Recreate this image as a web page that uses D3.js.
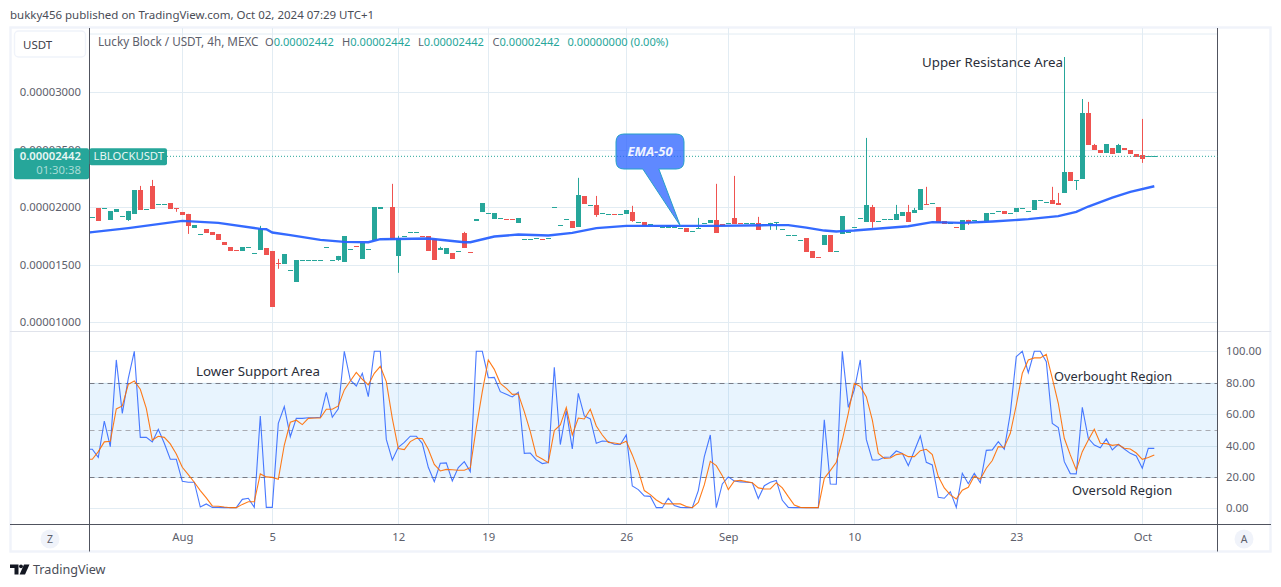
<!DOCTYPE html>
<html><head><meta charset="utf-8">
<script src="https://cdn.jsdelivr.net/npm/d3@7"></script>
<style>
html,body{margin:0;padding:0;background:#fff;overflow:hidden}
svg{display:block}
text{font-family:"Noto Sans",sans-serif}
</style></head><body>
<svg id="c" width="1281" height="587"></svg>
<script>
// Prices are in units of 1e-8 USDT
const openPrice=[1913,1994,1994,1890,1959,1922,1890,1942,2150,1983,2185,2026,2026,2038,1993,1960,1942,1820,1766,1812,1786,1768,1699,1656,1629,1621,1653,1601,1630,1647,1621,1516,1508,1453,1352,1540,1540,1540,1540,1653,1540,1540,1525,1635,1666,1551,1635,1716,1986,1728,2003,1578,1748,1783,1783,1750,1751,
1725,1630,1595,1604,1618,1777,1611,1881,1959,1948,1899,1904,1898,1898,1864,1722,1722,1731,1724,1731,2000,1844,1896,1881,1829,2098,2017,2020,1948,1939,1941,1939,1942,1959,1870,1873,1852,1840,1829,1821,1829,1818,1821,1792,1818,1861,1864,1890,1855,1861,1907,1863,1861,1861,1864,1852,1847,1870,1809,1757,1757,1713,1734,1621,1568,1673,1760,1618,1769,1786,1826,
1904,1873,2003,1878,1896,1896,1890,1925,1959,1951,1977,2028,2035,2003,1881,1861,1828,1803,1890,1887,1870,1881,1948,1965,1968,1948,1959,1994,1965,1977,2061,2043,2064,2038,2124,2307,2232,2246,2819,2541,2498,2472,2515,2472,2515,2498,2463,2454,2442,2442];
const closePrice=[1913,1881,1994,1968,1986,1922,1968,2150,1977,1983,1986,2026,2026,1986,1991,1933,1838,1847,1766,1777,1760,1716,1673,1621,1627,1656,1653,1601,1812,1586,1135,1514,1595,1453,1543,1540,1540,1540,1540,1653,1540,1577,1751,1635,1664,1690,1635,2003,2003,1728,1716,1734,1748,1783,1783,1748,1621,
1543,1647,1647,1551,1618,1647,1609,1899,2038,1948,1951,1904,1896,1896,1907,1722,1722,1731,1722,1731,2000,1844,1896,1821,2107,2029,2017,1933,1948,1939,1939,1939,1977,1881,1870,1838,1852,1838,1829,1847,1829,1818,1786,1792,1818,1861,1890,1777,1838,1861,1855,1861,1861,1861,1803,1852,1864,1870,1809,1757,1757,1713,1612,1560,1566,1760,1612,1618,1925,1786,1826,
1904,2020,1873,1878,1896,1896,1942,1959,1873,1977,2159,2026,2035,1864,1855,1861,1826,1890,1864,1887,1870,1951,1948,1965,1942,1948,1994,1994,1965,2064,2061,2043,2029,2020,2307,2229,2232,2819,2541,2498,2472,2550,2463,2541,2498,2463,2437,2420,2442,2442];
const upperWicks=[[8,2185],[10,2237],[28,1838],[31,1551],[50,2203],[51,1751],[58,1656],[62,1786],[81,2255],[84,2098],[90,2012],[101,1907],[104,2203],[107,2272],[111,1916],[130,2020],[129,2602],[134,2020],[136,2020],[137,1994],[139,2177],[160,2177],[161,2124],[162,3305],[165,2940],[166,2915],[167,2550],[171,2550],[175,2767]];
const lowerWicks=[[6,1881],[14,1960],[16,1768],[31,1465],[41,1534],[51,1430],[84,1916],[90,1873],[113,1803],[114,1803],[130,1821],[146,1847],[164,2150],[175,2385]];
const emaIndex=[-1,0,6,15,21,28,29,30,33,38,42,46,48,56,62,63,67,71,76,80,84,89,104,113,116,119,122,124,125,127,136,140,145,150,156,161,164,166,170,173,177];
const emaValue=[1778,1783,1818,1881,1864,1812,1809,1780,1757,1716,1699,1696,1722,1728,1696,1696,1745,1763,1754,1777,1818,1838,1838,1844,1844,1823,1797,1789,1792,1797,1835,1870,1864,1876,1896,1922,1959,2006,2084,2133,2182];
// Stochastic series begin one bar before the first visible candle
const stochK=[37.6,37.6,32.5,55.6,39.3,94.5,60.5,82.8,100,45.2,45.2,42.3,50.3,41.4,31.2,31.2,17.2,16.6,16.6,0.8,2.8,0.6,0.6,0.4,0.4,0.4,5.7,6.4,0.6,58.8,0.6,0.6,54.1,64.8,45.6,57.3,57.3,57.7,57.7,58,73.9,58,63.3,100,81.7,77.9,86,71.1,100,100,43.9,30.8,38.9,42,45.9,45.9,41.4,26.1,17,28.7,28.9,17.4,25.9,29.7,23.4,
100,100,83.2,83.4,74.3,72.6,70.9,73.9,35,35.2,30.8,28.5,29.1,89.8,40.6,62.2,37.8,73.2,58.8,56.9,41.4,42.9,42.5,40.8,40.6,46.7,14.2,11.9,7.9,7.6,0.4,0.4,6.4,1.7,0.6,0.4,0.4,11.3,32.9,46.7,0.4,15.5,20,17.4,16.8,16.6,16.3,6.2,14.4,16.6,17.8,5.1,0.6,0.4,0.4,0.4,0.4,0.4,56.3,15.5,15.3,100,64.3,75.4,94.5,
43.9,30.8,30.8,32.5,32.7,36.5,35,27.2,36.5,46.1,29.3,27.6,7,6.4,10.6,0.6,22.3,15.7,22.3,16.3,36.9,37.2,42.5,37.6,60.5,96.6,100,86.4,100,100,93.4,54.1,51.4,29.7,22.1,21.9,64.3,44.6,40.3,38.6,44.2,37.2,40.8,37.8,35,33.3,25.5,38.2,38.2];
const stochD=[31.2,31.2,36.1,42.3,42.7,63.3,65.2,79,81.1,75.8,63.7,43.5,45.9,45.2,41,34.6,26.1,21.4,16.6,11.3,6.6,1.5,1.3,0.8,0.4,0.4,2.5,4.2,4.2,21.9,20,19.7,18.5,40.3,54.8,56.1,53.3,57.3,57.5,57.5,63.1,63.1,65.2,75.4,81.1,86.6,82.2,78.6,86,90.4,80.7,57.3,38,37.4,42.5,44.6,44.4,37.6,28,23.8,24.8,24.6,24.2,24.2,25.9,
51.4,74.3,94.5,88.5,79.6,76.4,72.6,72.8,61.6,48.8,33.5,31.4,29.1,49.5,53.1,64.2,46.7,57.5,56.9,63.1,52.4,46.7,42,41.6,41,42.7,34,24,11.3,8.7,5.3,3,2.8,2.8,2.8,1.1,0.4,3.8,14.9,29.9,27.2,20.8,11.9,17.4,17.8,17,16.3,13,12.3,12.3,16.3,13,7.4,2.1,0.6,0.4,0.4,0.4,19.1,24,29.3,43.5,60.5,79.6,77.5,
71.1,56.3,35,31.8,32,34.2,34.8,32.9,32.9,36.7,37.6,34.2,20.2,13,8.5,5.9,11.5,13.4,20.6,18.5,25.5,30.4,39.3,38.9,47.8,65.8,86,94.5,95.8,95.8,98.1,82.8,66.9,44.6,34,24.4,36.1,43.5,50.3,41.4,41.2,40.1,40.6,38.2,37.8,35.2,31.2,32.3,34];
const priceTicks=[1000,1500,2000,2500,3000];
const stochTicks=[0,20,40,60,80,100];
const dateIndex=[15,30,51,66,89,106,127,154,175];
const dateLabel=["Aug","5","12","19","26","Sep","10","23","Oct"];
const lastPrice=2442;

const GRID="#e2ecf3",AXIS="#50535e",TXT="#5d606b",UP="#26a69a",DOWN="#ef5350";
const L=89.5,R=1217.5,T=28,SEP=331,B=524,FB=551.5;
const svg=d3.select("#c");
const x=d3.scaleLinear().domain([0,177]).range([92.3,1154.3]);
const yP=d3.scaleLinear().domain([1000,3000]).range([322.3,92.1]);
const yS=d3.scaleLinear().domain([0,100]).range([508.3,351.3]);
const fmt=v=>(v*1e-8).toFixed(8);

svg.append("text").attr("x",10).attr("y",19).attr("font-size",11.5).attr("fill","#4a4d57")
  .text("bukky456 published on TradingView.com, Oct 02, 2024 07:29 UTC+1");
svg.append("rect").attr("x",10.5).attr("y",27.5).attr("width",1260).attr("height",524).attr("fill","#fff").attr("stroke","#f0f3fa").attr("stroke-width",2.4);

const defs=svg.append("defs");
defs.append("clipPath").attr("id","pp").append("rect").attr("x",L).attr("y",T).attr("width",R-L).attr("height",SEP-T);
defs.append("clipPath").attr("id","ps").append("rect").attr("x",L).attr("y",SEP).attr("width",R-L).attr("height",B-SEP);

// grid
const grid=svg.append("g").attr("stroke",GRID).attr("stroke-width",1);
grid.selectAll(".v").data(dateIndex).join("line").attr("x1",d=>Math.round(x(d))+.5).attr("x2",d=>Math.round(x(d))+.5).attr("y1",T).attr("y2",B);
grid.selectAll(".p").data(priceTicks).join("line").attr("class","p").attr("x1",L).attr("x2",R).attr("y1",d=>Math.round(yP(d))+.5).attr("y2",d=>Math.round(yP(d))+.5);
grid.append("line").attr("x1",L).attr("x2",R).attr("y1",34).attr("y2",34);

// stochastic band
svg.append("rect").attr("x",L).attr("width",R-L).attr("y",yS(80)).attr("height",yS(20)-yS(80)).attr("fill","#2196f3").attr("fill-opacity",.1);
const sg=svg.append("g");
sg.selectAll("line").data(stochTicks).join("line").attr("x1",L).attr("x2",R).attr("y1",d=>Math.round(yS(d))+.5).attr("y2",d=>Math.round(yS(d))+.5)
  .attr("stroke",d=>(d===0||d===100)?GRID:"#cfe3f0");
[[80,"#787b86"],[50,"#a9abb2"],[20,"#787b86"]].forEach(([v,c])=>{
  svg.append("line").attr("x1",L).attr("x2",R).attr("y1",Math.round(yS(v))+.5).attr("y2",Math.round(yS(v))+.5).attr("stroke",c).attr("stroke-dasharray","5 4");
});

// axes
const gl=svg.append("g").attr("transform",`translate(${L},0)`).call(d3.axisLeft(yP).tickValues(priceTicks).tickFormat(fmt).tickSize(0).tickPadding(8.5));
const gr=svg.append("g").attr("transform",`translate(${R},0)`).call(d3.axisRight(yS).tickValues(stochTicks).tickFormat(d=>d.toFixed(2)).tickSize(0).tickPadding(8.5));
const gb=svg.append("g").attr("transform",`translate(0,${B})`).call(d3.axisBottom(x).tickValues(dateIndex).tickFormat((d,i)=>dateLabel[i]).tickSize(0).tickPadding(8.5));
[gl,gr,gb].forEach(g=>{g.select(".domain").remove();g.selectAll("text").attr("font-size",11.3).attr("fill",TXT).attr("font-family",'"Noto Sans",sans-serif');});

// candles
const bars=openPrice.map((o,i)=>({i,o,c:closePrice[i],h:Math.max(o,closePrice[i]),l:Math.min(o,closePrice[i])}));
upperWicks.forEach(([i,v])=>bars[i].h=v);
lowerWicks.forEach(([i,v])=>bars[i].l=v);
const pp=svg.append("g").attr("clip-path","url(#pp)");
const col=d=>d.c>=d.o?UP:DOWN;
pp.selectAll(".w").data(bars.filter(d=>d.h>Math.max(d.o,d.c)||d.l<Math.min(d.o,d.c))).join("rect")
  .attr("x",d=>Math.round(x(d.i)-.5)).attr("width",1).attr("y",d=>yP(d.h)).attr("height",d=>yP(d.l)-yP(d.h)).attr("fill",col);
pp.selectAll(".b").data(bars).join("rect")
  .attr("x",d=>Math.round(x(d.i)-2.5)).attr("width",5)
  .attr("y",d=>Math.round(yP(Math.max(d.o,d.c))))
  .attr("height",d=>Math.max(1,Math.round(yP(Math.min(d.o,d.c)))-Math.round(yP(Math.max(d.o,d.c)))))
  .attr("fill",col);

// EMA
pp.append("path").datum(emaIndex.map((d,i)=>[d,emaValue[i]])).attr("fill","none").attr("stroke","#2962ff").attr("stroke-opacity",.95).attr("stroke-width",2.4)
  .attr("d",d3.line().x(d=>x(d[0])).y(d=>yP(d[1])));

// stochastic lines
const ps=svg.append("g").attr("clip-path","url(#ps)");
const sl=d3.line().x((d,i)=>x(i-1)).y(d=>yS(d));
ps.append("path").datum(stochK).attr("fill","none").attr("stroke","#2962ff").attr("stroke-opacity",.85).attr("stroke-width",1.1).attr("d",sl);
ps.append("path").datum(stochD).attr("fill","none").attr("stroke","#ff6d00").attr("stroke-opacity",.9).attr("stroke-width",1.1).attr("d",sl);

// frame lines
const fr=svg.append("g").attr("stroke",AXIS).attr("stroke-width",1);
fr.append("line").attr("x1",10).attr("x2",1271).attr("y1",SEP+.5).attr("y2",SEP+.5).attr("stroke","#e0e3eb");
fr.append("line").attr("x1",L).attr("x2",L).attr("y1",T).attr("y2",FB);
fr.append("line").attr("x1",R).attr("x2",R).attr("y1",T).attr("y2",FB);
fr.append("line").attr("x1",10).attr("x2",1271).attr("y1",B+.5).attr("y2",B+.5);

// last price line + tags
const yLast=yP(lastPrice);
svg.append("line").attr("x1",167).attr("x2",R).attr("y1",yLast).attr("y2",yLast).attr("stroke",UP).attr("stroke-dasharray","1 2");
svg.append("rect").attr("x",14).attr("y",yLast-8).attr("width",75).attr("height",31).attr("rx",2).attr("fill",UP);
svg.append("rect").attr("x",89.5).attr("y",yLast-8).attr("width",77.5).attr("height",17).attr("rx",2).attr("fill",UP);
svg.append("text").attr("x",81).attr("y",yLast+4).attr("text-anchor","end").attr("font-size",11.3).attr("font-weight",600).attr("fill","#e8f6f4").text(fmt(lastPrice));
svg.append("text").attr("x",81).attr("y",yLast+18).attr("text-anchor","end").attr("font-size",11.3).attr("fill","#a8dcd6").text("01:30:38");
svg.append("text").attr("x",93.5).attr("y",yLast+4).attr("font-size",11.3).attr("fill","#e8f6f4").text("LBLOCKUSDT");

// USDT button
svg.append("rect").attr("x",14.5).attr("y",31).attr("width",71).attr("height",26).attr("rx",4).attr("fill","#fff").attr("stroke","#f0f3fa").attr("stroke-width",1.4);
svg.append("text").attr("x",23).attr("y",48.5).attr("font-size",11.5).attr("fill","#3f424c").text("USDT");

// legend
const lg=svg.append("text").attr("x",98).attr("y",46).attr("font-size",11.7).attr("fill",TXT);
lg.append("tspan").text("Lucky Block / USDT, 4h, MEXC");
[["O",265],["H",342],["L",418],["C",492.5]].forEach(([k,px])=>{
  lg.append("tspan").attr("x",px).attr("font-size",11.1).text(k);
  lg.append("tspan").attr("fill",UP).attr("font-size",11.1).text(fmt(lastPrice));
});
lg.append("tspan").attr("x",567.5).attr("font-size",11.1).attr("fill",UP).text("0.00000000 (0.00%)");

// EMA-50 callout
const tipX=x(98),tipY=yP(1838);
svg.append("path").attr("d",`M${tipX},${tipY}L${tipX-37.5},169 H624 Q616,169 616,161 V142 Q616,134 624,134 H676 Q684,134 684,142 V161 Q684,169 676,169 H${tipX-21.5} Z`)
  .attr("fill","#2962ff").attr("fill-opacity",.75).attr("stroke","#26a0c8").attr("stroke-width",1);
svg.append("text").attr("x",650).attr("y",156).attr("text-anchor","middle").attr("font-size",13).attr("font-weight",700).attr("font-style","italic").attr("fill","#f0f4ff").text("EMA-50");

// annotations
[["Upper Resistance Area",922,67,13.3],["Lower Support Area",196,376,13.3],["Overbought Region",1054,381,12.8],["Oversold Region",1072,495,12.9]].forEach(([t,px,py,fs])=>{
  svg.append("text").attr("x",px).attr("y",py).attr("font-size",fs).attr("fill","#2a2e39").text(t);
});

// Z / A buttons
[[50,"Z"],[1244,"A"]].forEach(([cx,t])=>{
  svg.append("circle").attr("cx",cx).attr("cy",539).attr("r",9.5).attr("fill","#f0f3fa");
  svg.append("text").attr("x",cx).attr("y",543).attr("text-anchor","middle").attr("font-size",10.5).attr("fill",TXT).text(t);
});

// logo
const logo=svg.append("g").attr("transform","translate(10,564.5)").attr("fill","#131722");
logo.append("path").attr("d","M0 0H8.5V10H4.5V3.4H0Z");
logo.append("circle").attr("cx",11).attr("cy",1.8).attr("r",1.9);
logo.append("path").attr("d","M14 0H19.5L15 10H9.6Z");
svg.append("text").attr("x",33).attr("y",574).attr("font-size",12.6).attr("fill","#4a4d57").text("TradingView");
</script>
</body></html>
